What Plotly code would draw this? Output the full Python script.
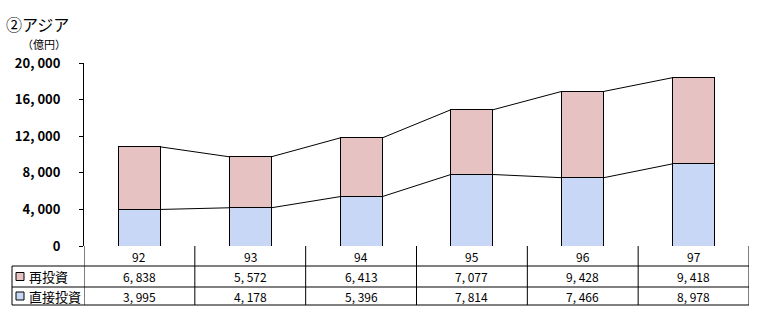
import plotly.graph_objects as go

years = ["92", "93", "94", "95", "96", "97"]
reinvest = [6838, 5572, 6413, 7077, 9428, 9418]   # 再投資
direct = [3995, 4178, 5396, 7814, 7466, 8978]     # 直接投資
series_names = ["再投資", "直接投資"]
yticks = [0, 4000, 8000, 12000, 16000, 20000]

PINK = "#E6C3C2"
BLUE = "#C9D7F6"
FONT = "Noto Sans CJK JP"
W, H = 761, 324
L, R, T, B = 84, 12, 63, 78
BW = 0.38

def fmt(v):
    return f"{v:,}".replace(",", ", ")

xs = list(range(len(years)))
tops = [d + r for d, r in zip(direct, reinvest)]

fig = go.Figure()
fig.add_bar(x=xs, y=direct, width=BW, marker=dict(color=BLUE, line=dict(color="black", width=1)),
            name=series_names[1], showlegend=False)
fig.add_bar(x=xs, y=reinvest, width=BW, marker=dict(color=PINK, line=dict(color="black", width=1)),
            name=series_names[0], showlegend=False)

# series lines
for ser in (direct, tops):
    for i in range(len(xs) - 1):
        fig.add_shape(type="line", xref="x", yref="y",
                      x0=xs[i] + BW / 2, x1=xs[i + 1] - BW / 2, y0=ser[i], y1=ser[i + 1],
                      line=dict(color="black", width=1))

ph = H - T - B
pw = W - L - R
def py(pix):
    return (H - B - pix) / ph
def px(pix):
    return (pix - L) / pw

r1, r2, r3 = py(266), py(287), py(305)
xl = px(12)
line = dict(color="black", width=1)
for yy in (r1, r2, r3):
    fig.add_shape(type="line", xref="paper", yref="paper", x0=xl, x1=1, y0=yy, y1=yy, line=line)
fig.add_shape(type="line", xref="paper", yref="paper", x0=xl, x1=xl, y0=r1, y1=r3, line=line)
for k in range(len(years) + 1):
    fig.add_shape(type="line", xref="x", yref="paper", x0=k - 0.5, x1=k - 0.5, y0=0, y1=r3, line=line)

ann = []
for i, y in enumerate(years):
    ann.append(dict(x=i, y=(0 + r1) / 2, text=y))
    ann.append(dict(x=i, y=(r1 + r2) / 2, text=fmt(reinvest[i])))
    ann.append(dict(x=i, y=(r2 + r3) / 2, text=fmt(direct[i])))
for a in ann:
    fig.add_annotation(xref="x", yref="paper", showarrow=False, xanchor="center", yanchor="middle",
                       font=dict(family=FONT, size=12, color="black"), **a)

# legend keys in table
for yy0, yy1, col, name in ((r1, r2, PINK, series_names[0]), (r2, r3, BLUE, series_names[1])):
    cy = (yy0 + yy1) / 2
    fig.add_shape(type="rect", xref="paper", yref="paper",
                  x0=px(16), x1=px(24), y0=cy - 4 / ph, y1=cy + 4 / ph,
                  fillcolor=col, line=dict(color="black", width=1))
    fig.add_annotation(xref="paper", yref="paper", x=px(27), y=cy, text=name, showarrow=False,
                       xanchor="left", yanchor="middle", font=dict(family=FONT, size=13, color="black"))

fig.add_annotation(xref="paper", yref="paper", x=px(4), y=py(24), text="②アジア", showarrow=False,
                   xanchor="left", yanchor="middle", font=dict(family=FONT, size=16, color="black"))
fig.add_annotation(xref="paper", yref="paper", x=px(20), y=py(44), text="（億円）", showarrow=False,
                   xanchor="left", yanchor="middle", font=dict(family=FONT, size=11, color="black"))

fig.update_layout(
    width=W, height=H, margin=dict(l=L, r=R, t=T, b=B),
    barmode="stack", plot_bgcolor="white", paper_bgcolor="white",
    xaxis=dict(range=[-0.5, len(years) - 0.5], showticklabels=False, showgrid=False, zeroline=False,
               showline=False, ticks=""),
    yaxis=dict(range=[0, 20000], tickvals=yticks, ticktext=[fmt(v) for v in yticks],
               showgrid=False, zeroline=False, showline=True, linecolor="black", linewidth=1,
               ticks="outside", ticklen=4, tickcolor="black", ticklabelstandoff=16,
               tickfont=dict(family=FONT, size=13, color="black", weight="bold")),
    showlegend=False,
)
fig.write_html("out.html")
